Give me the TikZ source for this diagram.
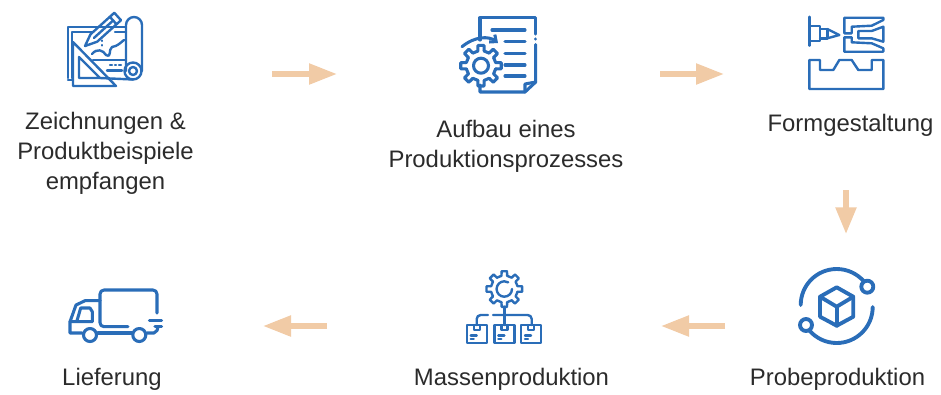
\documentclass[tikz,border=0pt]{standalone}
\usepackage{fontspec}
\setmainfont{Liberation Sans}
\usetikzlibrary{arrows.meta}
\definecolor{iconblue}{HTML}{2A6DB8}
\definecolor{flowpeach}{HTML}{F1CBA6}
\definecolor{labelgrey}{HTML}{2B2B2B}
\newcommand{\gearshape}[6]{% cx cy rin rout teeth halfwidth-deg
  \foreach \gi in {1,...,#5}{
    \pgfmathsetmacro{\ga}{360/#5*\gi}
    \pgfmathsetmacro{\gb}{\ga+360/#5}
    \pgfmathsetmacro{\gw}{#6}
    \pgfmathsetmacro{\gn}{\gw*0.72}
    \draw ({#1+#3*cos(\ga+\gw)},{#2+#3*sin(\ga+\gw)})
      arc[start angle={\ga+\gw},end angle={\gb-\gw},radius=#3]
      -- ({#1+#4*cos(\gb-\gn)},{#2+#4*sin(\gb-\gn)})
      -- ({#1+#4*cos(\gb+\gn)},{#2+#4*sin(\gb+\gn)})
      -- ({#1+#3*cos(\gb+\gw)},{#2+#3*sin(\gb+\gw)});
  }
}
\tikzset{
  icon/.style={draw=iconblue,line width=2.3pt,line join=round,line cap=round},
  iconthin/.style={draw=iconblue,line width=1.8pt,line join=round,line cap=round},
  flow/.style={draw=flowpeach,line width=4pt,-{Triangle[length=21pt,width=15pt,fill=flowpeach]}},
  label/.style={text=labelgrey,align=center,inner sep=0pt,anchor=base}
}
\newcommand{\labelfont}{\fontsize{17.9pt}{22.3pt}\selectfont}
\begin{document}
\begin{tikzpicture}[x=0.75pt,y=-0.75pt]
\useasboundingbox (0,0) rectangle (941,394);
% labels
\node[label,font=\labelfont,anchor=north] (zeichnung) at (105.5,112) {Zeichnungen \&\\Produktbeispiele\\empfangen};
\node[label,font=\labelfont,anchor=north] (aufbau) at (506,120) {Aufbau eines\\Produktionsprozesses};
\node[label,font=\labelfont] (form) at (850.5,131) {Formgestaltung};
\node[label,font=\labelfont] (probe) at (837.5,385) {Probeproduktion};
\node[label,font=\labelfont] (massen) at (511.5,385) {Massenproduktion};
\node[label,font=\labelfont] (liefer) at (112,385) {Lieferung};
% arrows
\coordinate (a1s) at (272,74); \coordinate (a1e) at (337,74);
\coordinate (a2s) at (660,74); \coordinate (a2e) at (724,74);
\coordinate (a3s) at (846,190); \coordinate (a3e) at (846,234);
\coordinate (a4s) at (725,326); \coordinate (a4e) at (661,326);
\coordinate (a5s) at (327,326); \coordinate (a5e) at (263,326);
\draw[flow] (a1s) -- (a1e);
\draw[flow] (a2s) -- (a2e);
\draw[flow,-{Triangle[length=20pt,width=15pt,fill=flowpeach]}] (a3s) -- (a3e);
\draw[flow] (a4s) -- (a4e);
\draw[flow] (a5s) -- (a5e);
% blueprint icon
\begin{scope}[iconthin]
\draw (68,78) -- (68,27) -- (126,27);
\draw (72,78) -- (72,32) -- (93,32);
\draw (115,32) -- (126,32);
\draw (68,80) -- (73,80);
\draw (73,42) -- (73,86) -- (116,86) -- cycle;
\draw (79,57) -- (79,78) -- (100,78) -- cycle;
\draw (126,71) -- (126,25) arc[start angle=180,end angle=360,radius=8] -- (142,71);
\draw (133,71) circle[radius=8.5];
\draw (133,71) circle[radius=4];
\draw (100,78) -- (133,79.5);
\draw (93,60) -- (126,60);
\draw (85,46) -- (97.2,41.7) -- (121,20.2) -- (114.3,12.8) -- (90.5,34.3) -- cycle;
\draw (93.9,38) -- (113.1,20.5);
\draw (116.5,24.2) -- (109.8,16.8);
\draw (92,54) .. controls (97,48) and (103,50) .. (106,55) .. controls (112,58) and (108,50) .. (112,47) .. controls (118,46) and (120,43) .. (124,40);
\draw (102,40.5) -- (102,41);
\draw (102,45) -- (102,45.5);
\draw (110,65) -- (112,65);
\draw (115,65) -- (116,65);
\draw (119,65) -- (121,65);
\draw (107,70.5) -- (122,70.5);
\end{scope}
% document icon
\begin{scope}[icon]
\draw (480,40) -- (480,17.7) -- (535.7,17.7) -- (535.7,34);
\draw (535.7,39) -- (535.7,39.2);
\draw (535.7,44.5) -- (535.7,82) -- (525,92) -- (480,92) -- (480,85);
\draw (525,92) -- (525,84) -- (535.7,82);
\draw (492,30) -- (525,30);
\draw (505,41.7) -- (525,41.7);
\draw (505,53.3) -- (525,53.3);
\draw (505,65) -- (525,65);
\draw (505,76) -- (525,76);
\gearshape{481}{65.7}{15}{20.5}{8}{12}
\draw (481,65.7) circle[radius=7.5];
\draw[-{Straight Barb[length=4pt,width=7pt]}] (462,46.7) .. controls (475,36) and (489,36) .. (498,43);
\end{scope}
% mould icon
\begin{scope}[iconthin]
\draw (809.3,16.7) -- (809.3,45.7);
\draw (809.3,25.7) -- (820,25.7) -- (820,41) -- (809.3,41);
\draw (820,29) -- (827.3,29) -- (827.3,38.3) -- (820,38.3);
\draw (827.3,29) -- (839.3,35) -- (827.3,38.3);
\draw (844.3,33.3) -- (844.3,17.7) -- (883.3,17.7) -- (883.3,20) -- (871.7,25.7) -- (851.7,26.7) -- (851.7,33.3) -- cycle;
\draw (844.3,37.3) -- (844.3,51.7) -- (883.3,51.7) -- (883.3,48.3) -- (871.7,43.3) -- (851.7,42.3) -- (851.7,37.3) -- cycle;
\draw (883.3,26.7) -- (883.3,41.7) -- (871.7,38.3) -- (858.3,38.3) -- (858.3,31) -- (871.7,31) -- cycle;
\draw (809.3,60) -- (820,60) -- (820,70) -- (833.3,70) -- (839.3,60) -- (851.7,60) -- (858.3,70) -- (871.7,70) -- (871.7,60) -- (883.3,60) -- (883.3,89) -- (809.3,89) -- cycle;
\end{scope}
% sample production icon
\begin{scope}[icon,line width=2.9pt]
\draw (800.7,305) arc[start angle=180,end angle=319,radius=36];
\draw (872.7,307) arc[start angle=0,end angle=140,radius=36];
\draw (867.3,286.7) circle[radius=6];
\draw (806,325) circle[radius=6];
\draw (836.7,287.3) -- (853.3,296.7) -- (853.3,316.7) -- (836.7,325.7) -- (820,316.7) -- (820,296.7) -- cycle;
\draw (820,296.7) -- (836.7,306.7) -- (853.3,296.7);
\draw (836.7,306.7) -- (836.7,325.7);
\end{scope}
% mass production icon
\begin{scope}[iconthin]
\gearshape{504.3}{289}{13.5}{18}{8}{12}
\draw (512,289) arc[start angle=0,end angle=300,radius=7.7];
\draw (504.3,306.7) -- (504.3,325);
\draw (476.7,325) -- (476.7,319) arc[start angle=180,end angle=270,radius=4] -- (488,315);
\draw (493,315) -- (527.7,315) arc[start angle=270,end angle=360,radius=4] -- (531.7,325);
\foreach \bx/\bn in {466.7/a,494.3/b,521/c}{
  \draw (\bx,325) rectangle (\bx+20,343);
  \draw (\bx+7,325) -- (\bx+7,330) -- (\bx+13,330) -- (\bx+13,325);
  \draw (\bx+4,335.5) -- (\bx+10,335.5);
  \draw (\bx+4,339) -- (\bx+7,339);
}
\end{scope}
% truck icon
\begin{scope}[icon]
\draw (100,300.7) -- (100,294) arc[start angle=180,end angle=270,radius=4] -- (153,290) arc[start angle=270,end angle=360,radius=4] -- (157,313);
\draw (100,300.7) -- (100,322.7) arc[start angle=180,end angle=90,radius=4] -- (128,326.7);
\draw (100,300.7) -- (85,300.7) -- (76,305) -- (70,321.7) -- (70,333) -- (82,333);
\draw (70,321.7) -- (92.3,321.7) -- (92.3,311.7) -- (90,308) -- (80.7,308) -- (76.7,321.7);
\draw (90,335) circle[radius=6.5];
\draw (139.3,335) circle[radius=6.5];
\draw (98,333) -- (132,333);
\draw (147,333) -- (154,333) .. controls (157,332) and (158,329) .. (158,326.7);
\draw (149.3,320.7) -- (161.7,320.7);
\draw (155,326.7) -- (161.7,326.7);
\end{scope}
\end{tikzpicture}
\end{document}
